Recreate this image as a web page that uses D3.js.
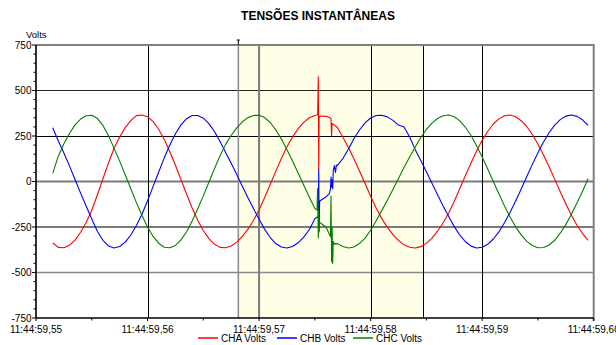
<!DOCTYPE html>
<html><head><meta charset="utf-8">
<script src="https://cdn.jsdelivr.net/npm/d3@7"></script>
<style>body{margin:0;background:#fff} svg{display:block} text{font-family:"Liberation Sans",Arial,sans-serif}</style>
</head><body><svg id="c" width="616" height="345"></svg>
<script>
// time in ms after 11:44:59,55
const timesMs = [1.5,2,2.5,3,3.5,4,4.5,5,5.5,6,6.5,7,7.5,8,8.5,9,9.5,10,10.5,11,11.5,12,12.5,13,13.5,14,14.5,15,15.5,16,16.5,17,17.5,18,18.5,19,19.5,20,20.5,21,21.5,22,22.5,23,23.5,24,24.5,25,
25.19,25.25,25.31,25.35,25.38,25.43,25.5,26,26.3,26.4,26.45,26.5,26.55,26.6,26.65,26.75,26.85,26.93,27,
27.5,28,28.5,29,29.5,30,30.5,31,31.5,32,32.5,33,33.5,34,34.5,35,35.5,36,36.5,37,37.5,38,38.5,39,39.5,40,40.5,41,41.5,42,42.5,43,43.5,44,44.5,45,45.5,46,46.5,47,47.5,48,48.5,49,49.5];
const chaVolts = [-338,-362,-364,-350,-322,-279,-225,-158,-74,15,102,183,245,296,334,362,365,356,329,287,231,163,89,10,-69,-146,-213,-269,-314,-345,-362,-364,-354,-333,-302,-262,-214,-156,-88,-16,57,127,191,245,290,325,350,363,
365,368,575,70,350,358,360,358,352,348,345,250,318,318,315,310,305,302,298,
244,188,125,58,-11,-81,-147,-204,-252,-292,-324,-348,-361,-365,-358,-340,-311,-273,-227,-173,-108,-38,33,102,168,226,276,316,344,361,365,356,334,302,258,206,146,81,13,-56,-122,-185,-240,-286,-323];
const chbVolts = [295,223,157,86,11,-64,-136,-206,-273,-323,-354,-365,-357,-333,-294,-242,-180,-106,-27,52,130,201,262,311,345,363,363,348,318,275,220,160,100,38,-26,-89,-149,-208,-263,-308,-341,-360,-365,-357,-337,-306,-265,-205,
-196,-195,-200,69,-277,-110,-104,-85,-66,-40,24,-31,10,-40,60,87,50,90,87,
125,177,235,283,322,349,363,364,355,336,310,300,245,175,116,54,-10,-73,-134,-192,-248,-295,-331,-355,-365,-361,-345,-316,-277,-227,-170,-107,-41,27,94,158,217,268,310,340,359,365,358,339,308];
const chcVolts = [45,139,207,264,311,343,361,364,347,308,252,182,112,37,-40,-116,-185,-250,-302,-339,-361,-364,-351,-321,-276,-217,-150,-79,-4,70,142,204,254,295,328,351,363,364,351,324,284,233,174,112,47,-19,-85,-148,
-157,-37,-310,-160,-250,-225,-228,-250,-290,-303,-80,-440,-250,-450,-330,-345,-340,-345,-340,
-357,-365,-360,-341,-311,-268,-216,-160,-103,-44,17,78,135,190,242,286,321,346,361,365,356,333,298,253,197,135,69,0,-67,-134,-195,-249,-293,-329,-352,-364,-363,-349,-323,-284,-237,-180,-118,-53,15];
const seriesNames = ["CHA Volts","CHB Volts","CHC Volts"];
const seriesColors = ["#ff0000","#0000ff","#008000"];
const yTicks = [-750,-500,-250,0,250,500,750];
const xTickMs = [0,10,20,30,40,50];
const xTickLabels = ["11:44:59,55","11:44:59,56","11:44:59,57","11:44:59,58","11:44:59,59","11:44:59,60"];
const cursorMs = [18.14, 34.72];
const title = "TENSÕES INSTANTÂNEAS";

const svg = d3.select("#c");
const x = d3.scaleLinear().domain([0,50]).range([36,593.7]);
const y = d3.scaleLinear().domain([-750,750]).range([318,45]);
const L = x.range()[0], R = x.range()[1], T = y.range()[1], B = y.range()[0];

svg.append("rect").attr("width",616).attr("height",345).attr("fill","#fff");
// shaded cursor region
svg.append("rect").attr("x",x(cursorMs[0])).attr("y",T).attr("width",x(cursorMs[1])-x(cursorMs[0])).attr("height",B-T).attr("fill","#fffee6");

function hline(yy,col,w){svg.append("line").attr("x1",L).attr("x2",R).attr("y1",yy).attr("y2",yy).attr("stroke",col).attr("stroke-width",w);}
function vline(xx,col,w,y1,y2){svg.append("line").attr("x1",xx).attr("x2",xx).attr("y1",y1==null?T:y1).attr("y2",y2==null?B:y2).attr("stroke",col).attr("stroke-width",w);}
const hStyle = {"500":["#222",1],"250":["#000",1],"0":["#7a7a7a",2],"-250":["#7a7a7a",2],"-500":["#888",1.5]};
yTicks.filter(v=>v>-750&&v<750).forEach(v=>{
  const s=hStyle[v]; const p = s[1]===1? Math.round(y(v))+0.5 : y(v);
  hline(p,s[0],s[1]);
});
const vStyle = {"10":["#000",1],"20":["#7a7a7a",2],"30":["#000",1],"40":["#000",1]};
xTickMs.filter(v=>v>0&&v<50).forEach(v=>{
  const s=vStyle[v]; const p = s[1]===1? Math.round(x(v))+0.5 : x(v);
  vline(p,s[0],s[1]);
});
vline(x(cursorMs[0]),"#8a8a8a",1.5);
vline(Math.round(x(cursorMs[1]))+0.5,"#000",1);
// borders
hline(T,"#808080",2);
vline(R,"#808080",2,T-1,B+3);
// cursor marker on top
vline(x(cursorMs[0]),"#000",1,T-5,T);
svg.append("line").attr("x1",x(cursorMs[0])-1.5).attr("x2",x(cursorMs[0])+1.5).attr("y1",T-5).attr("y2",T-5).attr("stroke","#000").attr("stroke-width",1);

// series
const line = d3.line().x((d,i)=>x(timesMs[i])).y(d=>y(d));
[chaVolts,chbVolts,chcVolts].forEach((vals,k)=>{
  svg.append("path").datum(vals).attr("d",line).attr("fill","none").attr("stroke",seriesColors[k]).attr("stroke-width",1.1).attr("stroke-linejoin","round");
});

// axes
svg.append("line").attr("x1",L).attr("x2",L).attr("y1",T).attr("y2",B).attr("stroke","#000").attr("stroke-width",1.6);
svg.append("line").attr("x1",L).attr("x2",R).attr("y1",B).attr("y2",B).attr("stroke","#000").attr("stroke-width",1.6);
d3.range(-750,751,50).forEach(v=>{
  const major = v%250===0;
  svg.append("line").attr("x1",L-(major?4:2.5)).attr("x2",L).attr("y1",y(v)).attr("y2",y(v)).attr("stroke","#000").attr("stroke-width",1);
});
yTicks.forEach(v=>{
  svg.append("text").attr("x",L-4.5).attr("y",y(v)).attr("dy","0.35em").attr("text-anchor","end").attr("font-size",10).attr("fill","#000").text(v);
});
d3.range(0,51,5).forEach(v=>{
  const major = v%10===0;
  svg.append("line").attr("x1",x(v)).attr("x2",x(v)).attr("y1",B).attr("y2",B+(major?3:2.5)).attr("stroke","#000").attr("stroke-width",1);
});
xTickMs.forEach((v,i)=>{
  svg.append("text").attr("x",x(v)).attr("y",332.5).attr("text-anchor","middle").attr("font-size",10).attr("fill","#000").text(xTickLabels[i]);
});
svg.append("text").attr("x",26).attr("y",37.5).attr("font-size",9.5).attr("fill","#000").text("Volts");
svg.append("text").attr("x",318).attr("y",20).attr("text-anchor","middle").attr("font-size",12).attr("font-weight","bold").attr("fill","#000").text(title);

// legend
const legX = [198,277,353];
seriesNames.forEach((n,k)=>{
  svg.append("line").attr("x1",legX[k]).attr("x2",legX[k]+20).attr("y1",338).attr("y2",338).attr("stroke",seriesColors[k]).attr("stroke-width",1.5);
  svg.append("text").attr("x",legX[k]+23).attr("y",341.5).attr("font-size",10).attr("fill","#000").text(n);
});
</script></body></html>
